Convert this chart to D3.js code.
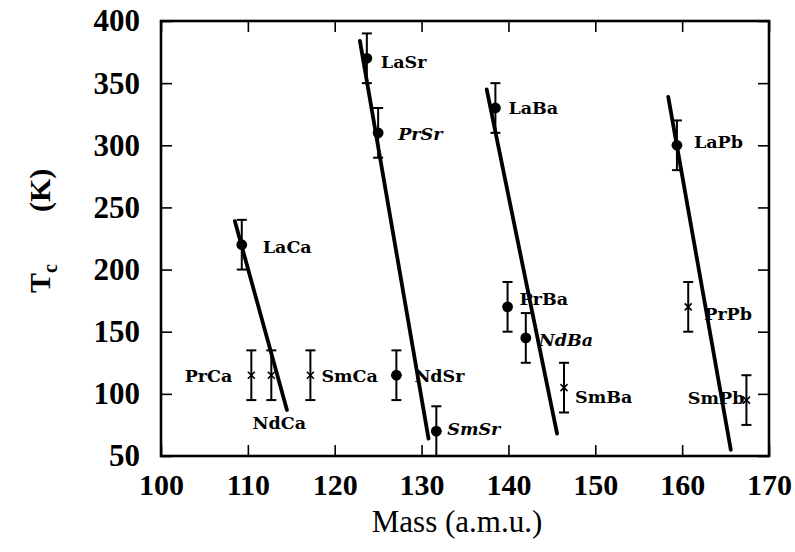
<!DOCTYPE html>
<html>
<head>
<meta charset="utf-8">
<script src="https://cdn.jsdelivr.net/npm/d3@7/dist/d3.min.js"></script>
<style>
  html, body { margin: 0; padding: 0; background: #fff; }
  svg { display: block; }
</style>
</head>
<body>
<script>
// Measured transition temperatures of the manganite compounds
const compounds = ['LaCa','PrCa','NdCa','SmCa','LaSr','PrSr','NdSr','SmSr',
                   'LaBa','PrBa','NdBa','SmBa','LaPb','PrPb','SmPb'];
const massAmu   = [109.3, 110.4, 112.7, 117.2, 123.7, 125.0, 127.1, 131.7,
                   138.5, 139.9, 142.0, 146.4, 159.4, 160.7, 167.4];
const tcKelvin  = [220, 115, 115, 115, 370, 310, 115, 70,
                   330, 170, 145, 105, 300, 170, 95];
const tcError   = [20, 20, 20, 20, 20, 20, 20, 20,
                   20, 20, 20, 20, 20, 20, 20];
const markerKind = ['dot','cross','cross','cross','dot','dot','dot','dot',
                    'dot','dot','dot','cross','dot','cross','cross'];

// Fitted trend lines, one per alkaline-earth / Pb family
const fitFamilies  = ['Ca','Sr','Ba','Pb'];
const fitMassStart = [108.5, 122.9, 137.5, 158.4];
const fitTcStart   = [239, 384, 345, 339];
const fitMassEnd   = [114.5, 130.8, 145.6, 165.6];
const fitTcEnd     = [87, 64, 68, 55];

// Axis ticks
const massTicks = [100, 110, 120, 130, 140, 150, 160, 170];
const tcTicks   = [50, 100, 150, 200, 250, 300, 350, 400];

// Label placement relative to each marker (layout only)
const labelLayout = {
  LaCa: {dx: 21, dy: 2,  anchor: 'start'},
  PrCa: {dx: -19, dy: 0, anchor: 'end'},
  NdCa: {dx: 8,  dy: 47, anchor: 'middle'},
  SmCa: {dx: 11, dy: 0,  anchor: 'start'},
  LaSr: {dx: 14, dy: 3,  anchor: 'start'},
  PrSr: {dx: 20, dy: 1,  anchor: 'start', italic: true},
  NdSr: {dx: 18, dy: 0,  anchor: 'start'},
  SmSr: {dx: 11, dy: -2, anchor: 'start', italic: true},
  LaBa: {dx: 13, dy: 0,  anchor: 'start'},
  PrBa: {dx: 12, dy: -8, anchor: 'start'},
  NdBa: {dx: 13, dy: 2,  anchor: 'start', italic: true},
  SmBa: {dx: 11, dy: 9,  anchor: 'start'},
  LaPb: {dx: 17, dy: -4, anchor: 'start'},
  PrPb: {dx: 16, dy: 7,  anchor: 'start'},
  SmPb: {dx: -2, dy: -2, anchor: 'end'}
};

const W = 795, H = 552;
const margin = {left: 161, right: 26, top: 21, bottom: 96};

const svg = d3.select('body').append('svg')
  .attr('width', W).attr('height', H);

const x = d3.scaleLinear().domain([100, 170]).range([margin.left, W - margin.right]);
const y = d3.scaleLinear().domain([50, 400]).range([H - margin.bottom, margin.top]);

const serif = '"Liberation Serif", "Times New Roman", serif';
const tickLen = 11;

// Axes with inward ticks on all four sides
const gx = svg.append('g')
  .attr('transform', `translate(0,${y(50)})`)
  .call(d3.axisBottom(x).tickValues(massTicks).tickSize(-tickLen).tickPadding(18).tickFormat(d3.format('d')));
const gy = svg.append('g')
  .attr('transform', `translate(${x(100)},0)`)
  .call(d3.axisLeft(y).tickValues(tcTicks).tickSize(-tickLen).tickPadding(21).tickFormat(d3.format('d')));
const gxTop = svg.append('g')
  .attr('transform', `translate(0,${y(400)})`)
  .call(d3.axisTop(x).tickValues(massTicks).tickSize(-tickLen).tickFormat(''));
const gyRight = svg.append('g')
  .attr('transform', `translate(${x(170)},0)`)
  .call(d3.axisRight(y).tickValues(tcTicks).tickSize(-tickLen).tickFormat(''));

[gx, gy, gxTop, gyRight].forEach(g => {
  g.select('.domain').remove();
  g.selectAll('.tick line').attr('stroke', '#000').attr('stroke-width', 1.6);
  g.selectAll('.tick text')
    .attr('fill', '#000')
    .style('font-family', serif)
    .style('font-weight', 'bold')
    .style('font-size', '30px');
});
gy.selectAll('.tick text').style('font-size', '31px');

// Plot frame
svg.append('rect')
  .attr('x', x(100)).attr('y', y(400))
  .attr('width', x(170) - x(100)).attr('height', y(50) - y(400))
  .attr('fill', 'none').attr('stroke', '#000').attr('stroke-width', 2.6);

// Axis titles
svg.append('text')
  .attr('x', (x(100) + x(170)) / 2 - 8).attr('y', 532)
  .attr('text-anchor', 'middle')
  .style('font-family', serif).style('font-size', '31px')
  .text('Mass (a.m.u.)');

const yt = svg.append('text')
  .attr('transform', 'translate(50,293) rotate(-90)')
  .attr('text-anchor', 'start')
  .style('font-family', serif).style('font-size', '30px').style('font-weight', 'bold');
yt.append('tspan').text('T');
yt.append('tspan').attr('dy', 7).style('font-size', '20px').text('c');
yt.append('tspan').attr('dy', -7).attr('dx', 52).text('(K)');

const points = compounds.map((name, i) => ({
  name, m: massAmu[i], t: tcKelvin[i], e: tcError[i], kind: markerKind[i]
}));

const plot = svg.append('g');

// Fitted lines
fitFamilies.forEach((f, i) => {
  plot.append('line')
    .attr('x1', x(fitMassStart[i])).attr('y1', y(fitTcStart[i]))
    .attr('x2', x(fitMassEnd[i])).attr('y2', y(fitTcEnd[i]))
    .attr('stroke', '#000').attr('stroke-width', 3.8).attr('stroke-linecap', 'round');
});

// Error bars
const capHalf = 5;
const eb = plot.selectAll('g.err').data(points).join('g').attr('class', 'err')
  .attr('stroke', '#000').attr('stroke-width', 2);
eb.append('line')
  .attr('x1', d => x(d.m)).attr('x2', d => x(d.m))
  .attr('y1', d => y(Math.min(400, d.t + d.e))).attr('y2', d => y(Math.max(50, d.t - d.e)));
eb.append('line')
  .attr('x1', d => x(d.m) - capHalf).attr('x2', d => x(d.m) + capHalf)
  .attr('y1', d => y(d.t + d.e)).attr('y2', d => y(d.t + d.e));
eb.filter(d => d.t - d.e > 50).append('line')
  .attr('x1', d => x(d.m) - capHalf).attr('x2', d => x(d.m) + capHalf)
  .attr('y1', d => y(d.t - d.e)).attr('y2', d => y(d.t - d.e));

// Markers: filled dots and small crosses
plot.selectAll('circle.dot').data(points.filter(d => d.kind === 'dot')).join('circle')
  .attr('class', 'dot')
  .attr('cx', d => x(d.m)).attr('cy', d => y(d.t)).attr('r', 5.4).attr('fill', '#000');

const cs = 3.5;
plot.selectAll('path.cross').data(points.filter(d => d.kind === 'cross')).join('path')
  .attr('class', 'cross')
  .attr('d', d => {
    const cx = x(d.m), cy = y(d.t);
    return `M${cx - cs},${cy - cs}L${cx + cs},${cy + cs}M${cx - cs},${cy + cs}L${cx + cs},${cy - cs}`;
  })
  .attr('stroke', '#000').attr('stroke-width', 1.6).attr('fill', 'none');

// Compound labels
plot.selectAll('text.lbl').data(points).join('text')
  .attr('class', 'lbl')
  .attr('x', d => x(d.m) + labelLayout[d.name].dx)
  .attr('y', d => y(d.t) + labelLayout[d.name].dy)
  .attr('dy', '0.36em')
  .attr('text-anchor', d => labelLayout[d.name].anchor)
  .style('font-family', '"DejaVu Serif", serif')
  .style('font-size', '17.5px')
  .style('font-weight', 'bold')
  .style('font-style', d => labelLayout[d.name].italic ? 'italic' : 'normal')
  .text(d => d.name);
</script>
</body>
</html>
